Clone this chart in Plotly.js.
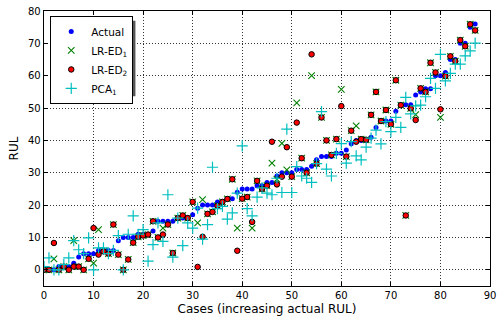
<!DOCTYPE html>
<html>
<head>
<meta charset="utf-8">
<script src="https://cdn.plot.ly/plotly-3.0.1.min.js"></script>
<style>html,body{margin:0;padding:0;background:#fff;}#chart{width:498px;height:318px;}</style>
</head>
<body>
<div id="chart"></div>
<script>
const cases = Array.from({length: 88}, (_, i) => i);

const actual = [0,0,0,1,1,1,2,4,5,5, 5,6,6,6,6,9,10,10,10,11,
  11,11,12,15,15,15,15,16,16,16, 17,19,20,20,20,21,21,22,22,24,
  25,25,25,26,26,27,27,29,30,30, 30,31,31,31,32,34,35,35,35,36,
  36,37,39,40,40,40,41,44,46,46, 46,49,51,51,51,54,55,56,56,60,
  60,61,65,65,70,70,75,76];

const lrEd2 = [0,0,8.3,0,1,0,1,1,0,3.4, 12.9,4.7,5.7,5,14,4.7,0,3.2,8.4,10.2,
  10.6,10.9,15,10,10.9,14,5.2,16,16.8,16, 21,0.9,10.2,17.3,17.9,19.8,21,21.9,28,5.9,
  22,22.5,14.8,27.5,25,26,39.6,26.4,28.8,37.9, 28.8,45.5,34.5,30,66.6,32.8,47.1,40,35.5,40.4,
  50.6,35,43,39.6,40.4,40.2,47.9,55,46,49.4, 45,58.6,50.9,16.8,49.9,46.3,56.1,55,64,61,
  49.6,59.9,66,64.5,71,69.1,75.9,74];

const lrEd1 = [0,0,3.4,0,1,0,9,1,0,3.4, 2.1,12.4,5.7,5,14,4.7,0,3.2,8.4,10.2,
  10.6,10.9,15,10,12.9,14,5.2,16,16.8,16, 21,14.5,21.7,17.3,17.9,19.8,21,21.9,28,12.9,
  22,22.5,12.9,27.5,25,26,33,28,39.1,30.9, 28.8,51.6,34.5,30,60,32.8,47.1,40,35.5,40.4,
  55.8,35,43,44.5,40.4,40.2,47.9,55,46,49.4, 45,58.6,50.9,16.8,49.9,48,56.1,55,64,61,
  47.1,59.9,66,64.5,71,69.1,75.9,74];

const pca1 = [1,3.7,0,0,1.6,3.7,9,6.2,5,9.9, 0,6.8,6.8,5,6,10.6,0,11,16.7,11,
  12.4,2.7,7.8,14.5,8.8,23.2,3.9,16,7.5,14.5, 12.9,19.1,9.5,14,31.7,18.9,19.6,15.7,17.6,23.7,
  38.3,18.9,16.7,22.5,25.3,23.7,23.2,28.3,23.9,43.5, 23.9,31.9,29,28.3,27,32.8,48.9,31.1,29,36,
  39,33,39.6,35.2,34,37.9,40.7,43.2,38.9,45.8, 42.7,47.1,44,53.3,48.2,50.7,50.9,53.5,59.2,56.1,
  66.6,58.4,60.7,63.6,63.6,66.1,67.7,70.1];

const xTicks = [0,10,20,30,40,50,60,70,80,90];
const yTicks = [0,10,20,30,40,50,60,70,80];

const font = 'DejaVu Sans, sans-serif';

const traces = [
  {x: cases, y: actual, name: 'Actual', type: 'scatter', mode: 'markers',
   marker: {symbol: 'circle', size: 5, color: '#0000ff', line: {width: 0}}},
  {x: cases, y: lrEd1, name: 'LR-ED<sub>1</sub>', type: 'scatter', mode: 'markers',
   marker: {symbol: 'x-thin-open', size: 6.5, color: '#008000', line: {width: 1.1, color: '#008000'}}},
  {x: cases, y: lrEd2, name: 'LR-ED<sub>2</sub>', type: 'scatter', mode: 'markers',
   marker: {symbol: 'circle', size: 5.5, color: '#ff0000', line: {width: 1, color: '#000000'}}},
  {x: cases, y: pca1, name: 'PCA<sub>1</sub>', type: 'scatter', mode: 'markers',
   marker: {symbol: 'cross-thin-open', size: 8, color: '#00bfbf', line: {width: 1.2, color: '#00bfbf'}}}
];

const axisCommon = {
  showline: true, linecolor: '#000', linewidth: 1.3, mirror: 'ticks',
  ticks: 'inside', ticklen: 4, tickcolor: '#000', tickwidth: 1,
  showgrid: true, gridcolor: '#333', griddash: '1px,2px', gridwidth: 1,
  zeroline: false, tickfont: {family: font, size: 10, color: '#000'},
  automargin: false
};

const layout = {
  width: 498, height: 318,
  margin: {l: 44, r: 8, t: 11, b: 32},
  paper_bgcolor: '#fff', plot_bgcolor: '#fff',
  showlegend: true,
  legend: {x: 0.014, y: 0.982, xanchor: 'left', yanchor: 'top',
    bgcolor: '#fff', bordercolor: '#000', borderwidth: 1,
    font: {family: font, size: 10.5, color: '#000'}, tracegroupgap: 0, itemwidth: 30},
  shapes: [
    {type: 'rect', xref: 'paper', yref: 'paper', layer: 'above',
     x0: 0.022, x1: 0.205, y0: 0.69, y1: 0.965,
     fillcolor: '#555', line: {width: 0}}
  ],
  xaxis: Object.assign({}, axisCommon, {range: [0, 90], tickvals: xTicks,
    title: {text: 'Cases (increasing actual RUL)', font: {family: font, size: 12, color: '#000'}, standoff: 4}}),
  yaxis: Object.assign({}, axisCommon, {range: [-5, 80], tickvals: yTicks,
    title: {text: 'RUL', font: {family: font, size: 12, color: '#000'}, standoff: 6}})
};

Plotly.newPlot('chart', traces, layout, {staticPlot: true, displayModeBar: false});
</script>
</body>
</html>
